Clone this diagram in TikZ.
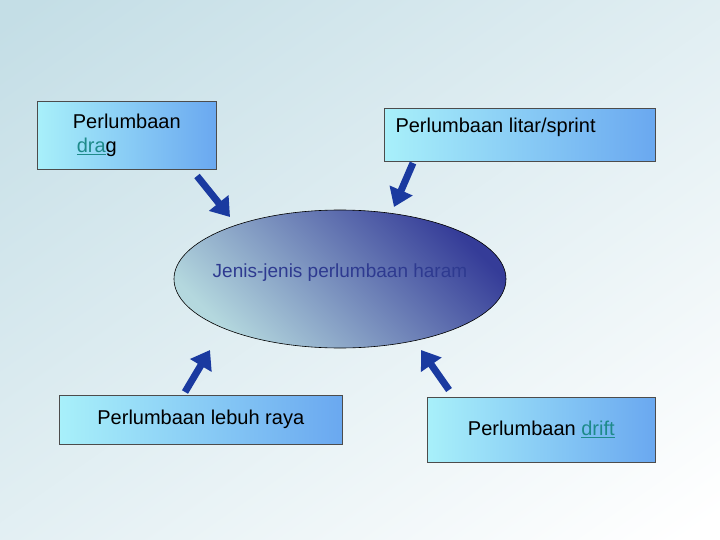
\documentclass[tikz,border=0pt]{standalone}
\usepackage{fontspec}
\setmainfont{Liberation Sans}
\usetikzlibrary{arrows.meta,shapes.geometric}
\definecolor{bgA}{HTML}{C4DEE6}
\definecolor{bxL}{HTML}{A8F0FA}
\definecolor{bxR}{HTML}{6AA8F0}
\definecolor{arr}{HTML}{1A3AA0}
\definecolor{elD}{HTML}{353C98}
\definecolor{elL}{HTML}{B4D8DE}
\definecolor{txt}{HTML}{2E3A90}
\definecolor{lnk}{HTML}{1E8A8A}
\tikzset{
 box/.style={draw=black!70, line width=0.6pt, left color=bxL, right color=bxR, minimum height=#1, inner sep=0pt, font=\fontsize{20}{24}\selectfont, align=center},
 barrow/.style={arr, line width=7pt, -{Triangle[width=24pt,length=18pt]}}
}
\begin{document}
\begin{tikzpicture}[x=1pt,y=-1pt]
\useasboundingbox (0,0) rectangle (720,540);
\shade[top color=bgA, bottom color=white, shading angle=35] (-100,-100) rectangle (820,640);
\node[box=68pt, minimum width=179pt, anchor=north west] (tl) at (37,101) {Perlumbaan\\\textcolor{lnk}{\underline{dra}}g\hspace*{60pt}};
\node[box=53pt, minimum width=271pt, anchor=north west] (tr) at (384,108) {};
\node[font=\fontsize{20}{24}\selectfont, anchor=west] (trt) at (392,127) {Perlumbaan litar/sprint};
\node[box=49pt, minimum width=283pt, anchor=north west] (bl) at (59,395) {Perlumbaan lebuh raya};
\node[box=65pt, minimum width=228pt, anchor=north west] (br) at (427,397) {Perlumbaan \textcolor{lnk}{\underline{drift}}};
\shade[draw=black, line width=0.6pt, top color=elD, bottom color=elL, shading angle=-45] (340,279) ellipse [x radius=166, y radius=69];
\node[font=\fontsize{19}{23}\selectfont, text=txt] (el) at (340,273) {Jenis-jenis perlumbaan haram};
\coordinate (a1) at (197,176); \coordinate (b1) at (230,217);
\coordinate (a2) at (413,163); \coordinate (b2) at (394,207);
\coordinate (a3) at (185,392); \coordinate (b3) at (210,350);
\coordinate (a4) at (449,390); \coordinate (b4) at (421,350);
\draw[barrow] (a1) -- (b1);
\draw[barrow] (a2) -- (b2);
\draw[barrow] (a3) -- (b3);
\draw[barrow] (a4) -- (b4);
\end{tikzpicture}
\end{document}
